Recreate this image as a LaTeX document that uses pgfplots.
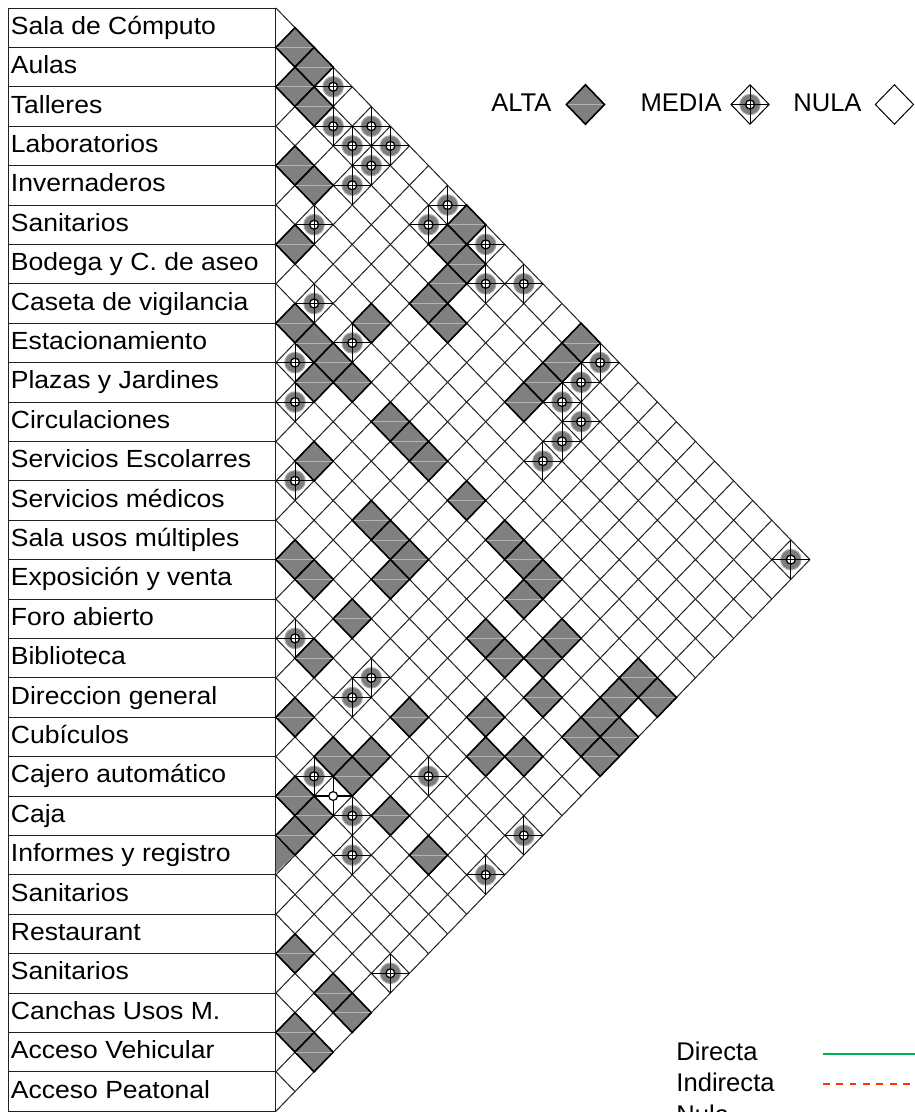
\documentclass[border=0pt]{standalone}
\usepackage{fontspec}
\setmainfont{Liberation Sans}
\newfontfamily\labfont{Liberation Sans}[FakeStretch=1.07]
\usepackage{pgfplots}
\pgfplotsset{compat=1.18}
\definecolor{alta}{HTML}{808080}
\definecolor{altaline}{HTML}{B4B4B4}
\definecolor{ring}{HTML}{7C7C7C}
\definecolor{ringedge}{HTML}{A8A8A8}
\definecolor{directa}{HTML}{00B050}
\definecolor{indirecta}{HTML}{FF3300}
\definecolor{gridc}{HTML}{202020}

\pgfdeclareplotmark{alta}{%
  \pgfscope
  \pgfsetfillcolor{alta}\pgfsetstrokecolor{black}\pgfsetlinewidth{0.8pt}%
  \pgfpathmoveto{\pgfqpoint{-9.535pt}{0pt}}%
  \pgfpathlineto{\pgfqpoint{0pt}{9.85pt}}%
  \pgfpathlineto{\pgfqpoint{9.535pt}{0pt}}%
  \pgfpathlineto{\pgfqpoint{0pt}{-9.85pt}}%
  \pgfpathclose
  \pgfusepathqfillstroke
  \pgfsetstrokecolor{altaline}\pgfsetlinewidth{0.4pt}%
  \pgfpathmoveto{\pgfqpoint{-8.8pt}{0pt}}\pgfpathlineto{\pgfqpoint{8.8pt}{0pt}}%
  \pgfusepathqstroke
  \endpgfscope
}
\pgfdeclareplotmark{nula}{%
  \pgfscope
  \pgfsetfillcolor{white}\pgfsetstrokecolor{black}\pgfsetlinewidth{0.5pt}%
  \pgfpathmoveto{\pgfqpoint{-9.535pt}{0pt}}%
  \pgfpathlineto{\pgfqpoint{0pt}{9.85pt}}%
  \pgfpathlineto{\pgfqpoint{9.535pt}{0pt}}%
  \pgfpathlineto{\pgfqpoint{0pt}{-9.85pt}}%
  \pgfpathclose
  \pgfusepathqfillstroke
  \endpgfscope
}
\pgfdeclareplotmark{media}{%
  \pgfscope
  \pgfsetfillcolor{ringedge}%
  \pgfpathcircle{\pgfpointorigin}{5.4pt}\pgfusepathqfill
  \pgfsetfillcolor{ring}%
  \pgfpathcircle{\pgfpointorigin}{4.8pt}\pgfusepathqfill
  \pgfsetfillcolor{white}\pgfsetstrokecolor{black}\pgfsetlinewidth{0.65pt}%
  \pgfpathcircle{\pgfpointorigin}{2.25pt}\pgfusepathqfillstroke
  \pgfsetlinewidth{0.5pt}%
  \pgfpathmoveto{\pgfqpoint{-9.535pt}{0pt}}\pgfpathlineto{\pgfqpoint{9.535pt}{0pt}}%
  \pgfpathmoveto{\pgfqpoint{0pt}{-9.85pt}}\pgfpathlineto{\pgfqpoint{0pt}{9.85pt}}%
  \pgfusepathqstroke
  \endpgfscope
}
\pgfdeclareplotmark{mediab}{%
  \pgfscope
  \pgfsetfillcolor{white}\pgfsetstrokecolor{black}\pgfsetlinewidth{0.6pt}%
  \pgfpathmoveto{\pgfqpoint{-9.535pt}{0pt}}\pgfpathlineto{\pgfqpoint{9.535pt}{0pt}}%
  \pgfpathmoveto{\pgfqpoint{0pt}{-9.85pt}}\pgfpathlineto{\pgfqpoint{0pt}{9.85pt}}%
  \pgfusepathqstroke
  \pgfpathcircle{\pgfpointorigin}{2.2pt}\pgfusepathqfillstroke
  \endpgfscope
}
\tikzset{lab/.style={anchor=base west, inner sep=0pt, font=\labfont\fontsize{12.4}{14}\selectfont},
         leg/.style={inner sep=0pt, font=\fontsize{12.8}{15}\selectfont}}

\begin{document}
\begin{tikzpicture}
\begin{axis}[
  x=9.535pt, y=19.7pt, y dir=reverse,
  xmin=-14.47, xmax=33.46, ymin=-0.203, ymax=28.02,
  hide axis, clip=false, unbounded coords=jump,
]
% ---- label boxes ----
\addplot[gridc, line width=0.5pt, mark=none] table {
x y
-14.05 0
0 0
nan nan
-14.05 1
0 1
nan nan
-14.05 2
0 2
nan nan
-14.05 3
0 3
nan nan
-14.05 4
0 4
nan nan
-14.05 5
0 5
nan nan
-14.05 6
0 6
nan nan
-14.05 7
0 7
nan nan
-14.05 8
0 8
nan nan
-14.05 9
0 9
nan nan
-14.05 10
0 10
nan nan
-14.05 11
0 11
nan nan
-14.05 12
0 12
nan nan
-14.05 13
0 13
nan nan
-14.05 14
0 14
nan nan
-14.05 15
0 15
nan nan
-14.05 16
0 16
nan nan
-14.05 17
0 17
nan nan
-14.05 18
0 18
nan nan
-14.05 19
0 19
nan nan
-14.05 20
0 20
nan nan
-14.05 21
0 21
nan nan
-14.05 22
0 22
nan nan
-14.05 23
0 23
nan nan
-14.05 24
0 24
nan nan
-14.05 25
0 25
nan nan
-14.05 26
0 26
nan nan
-14.05 27
0 27
nan nan
-14.05 28
0 28
nan nan
-14.05 0
-14.05 28
nan nan
0 0
0 28
};
\node[lab] at (axis cs:-13.92,0.665) {Sala de Cómputo};
\node[lab] at (axis cs:-13.92,1.665) {Aulas};
\node[lab] at (axis cs:-13.92,2.665) {Talleres};
\node[lab] at (axis cs:-13.92,3.665) {Laboratorios};
\node[lab] at (axis cs:-13.92,4.665) {Invernaderos};
\node[lab] at (axis cs:-13.92,5.665) {Sanitarios};
\node[lab] at (axis cs:-13.92,6.665) {Bodega y C. de aseo};
\node[lab] at (axis cs:-13.92,7.665) {Caseta de vigilancia};
\node[lab] at (axis cs:-13.92,8.665) {Estacionamiento};
\node[lab] at (axis cs:-13.92,9.665) {Plazas y Jardines};
\node[lab] at (axis cs:-13.92,10.665) {Circulaciones};
\node[lab] at (axis cs:-13.92,11.665) {Servicios Escolarres};
\node[lab] at (axis cs:-13.92,12.665) {Servicios médicos};
\node[lab] at (axis cs:-13.92,13.665) {Sala usos múltiples};
\node[lab] at (axis cs:-13.92,14.665) {Exposición y venta};
\node[lab] at (axis cs:-13.92,15.665) {Foro abierto};
\node[lab] at (axis cs:-13.92,16.665) {Biblioteca};
\node[lab] at (axis cs:-13.92,17.665) {Direccion general};
\node[lab] at (axis cs:-13.92,18.665) {Cubículos};
\node[lab] at (axis cs:-13.92,19.665) {Cajero automático};
\node[lab] at (axis cs:-13.92,20.665) {Caja};
\node[lab] at (axis cs:-13.92,21.665) {Informes y registro};
\node[lab] at (axis cs:-13.92,22.665) {Sanitarios};
\node[lab] at (axis cs:-13.92,23.665) {Restaurant};
\node[lab] at (axis cs:-13.92,24.665) {Sanitarios};
\node[lab] at (axis cs:-13.92,25.665) {Canchas Usos M.};
\node[lab] at (axis cs:-13.92,26.665) {Acceso Vehicular};
\node[lab] at (axis cs:-13.92,27.665) {Acceso Peatonal};

% ---- grid: down-right lines ----
\addplot[gridc, line width=0.5pt, mark=none] table {
x y
0 0
28 14
nan nan
0 1
27 14.5
nan nan
0 2
26 15
nan nan
0 3
25 15.5
nan nan
0 4
24 16
nan nan
0 5
23 16.5
nan nan
0 6
22 17
nan nan
0 7
21 17.5
nan nan
0 8
20 18
nan nan
0 9
19 18.5
nan nan
0 10
18 19
nan nan
0 11
17 19.5
nan nan
0 12
16 20
nan nan
0 13
15 20.5
nan nan
0 14
14 21
nan nan
0 15
13 21.5
nan nan
0 16
12 22
nan nan
0 17
11 22.5
nan nan
0 18
10 23
nan nan
0 19
9 23.5
nan nan
0 20
8 24
nan nan
0 21
7 24.5
nan nan
0 22
6 25
nan nan
0 23
5 25.5
nan nan
0 24
4 26
nan nan
0 25
3 26.5
nan nan
0 26
2 27
nan nan
0 27
1 27.5
};
% ---- grid: up-right lines ----
\addplot[gridc, line width=0.5pt, mark=none] table {
x y
0 1
1 0.5
nan nan
0 2
2 1
nan nan
0 3
3 1.5
nan nan
0 4
4 2
nan nan
0 5
5 2.5
nan nan
0 6
6 3
nan nan
0 7
7 3.5
nan nan
0 8
8 4
nan nan
0 9
9 4.5
nan nan
0 10
10 5
nan nan
0 11
11 5.5
nan nan
0 12
12 6
nan nan
0 13
13 6.5
nan nan
0 14
14 7
nan nan
0 15
15 7.5
nan nan
0 16
16 8
nan nan
0 17
17 8.5
nan nan
0 18
18 9
nan nan
0 19
19 9.5
nan nan
0 20
20 10
nan nan
0 21
21 10.5
nan nan
0 22
22 11
nan nan
0 23
23 11.5
nan nan
0 24
24 12
nan nan
0 25
25 12.5
nan nan
0 26
26 13
nan nan
0 27
27 13.5
nan nan
0 28
28 14
};

% row triangle filled (Informes y registro)
\addplot[fill=alta, draw=none, mark=none] table {
x y
0 21.05
0.95 21.5
0 21.95
0 21.05
};

% ---- ALTA (x = j-i, y = (i+j-1)/2) ----
\addplot[only marks, mark=alta] table {
x y
1 1
2 1.5
1 2
2 2.5
1 4
2 4.5
1 6
10 5.5
9 6
10 6.5
9 7
8 7.5
9 8
1 8
5 8
2 8.5
3 9
2 9.5
4 9.5
6 10.5
7 11
8 11.5
2 11.5
10 12.5
5 13
6 13.5
12 13.5
1 14
7 14
13 14
16 8.5
15 9
14 9.5
13 10
2 14.5
6 14.5
13 15
4 15.5
2 16.5
1 18
7 18
11 16
12 16.5
11 18
3 19
5 19
4 19.5
11 19
13 19
1 20
2 20.5
1 21
6 20.5
14 14.5
15 16
14 16.5
14 17.5
19 17
18 17.5
20 17.5
17 18
16 18.5
18 18.5
17 19
8 21.5
1 24
3 25
4 25.5
1 26
2 26.5
};

% ---- MEDIA ----
\addplot[only marks, mark=media] table {
x y
3 2
3 3
5 3
4 3.5
6 3.5
5 4
4 4.5
2 5.5
9 5
8 5.5
11 6
11 7
13 7
2 7.5
4 8.5
1 9
1 10
1 12
17 9
16 9.5
15 10
16 10.5
15 11
14 11.5
27 14
1 16
5 17
4 17.5
2 19.5
4 20.5
8 19.5
13 21
4 21.5
11 22
6 24.5
};
\addplot[only marks, mark=mediab] coordinates {(3,20)};

% ---- legend (top) ----
\addplot[only marks, mark=alta] coordinates {(16.23,2.449)};
\addplot[only marks, mark=nula] coordinates {(24.86,2.449) (32.43,2.449)};
\addplot[only marks, mark=media] coordinates {(24.86,2.449)};
\node[leg, anchor=base east] at (axis cs:14.47,2.632) {ALTA};
\node[leg, anchor=base east] at (axis cs:23.39,2.632) {MEDIA};
\node[leg, anchor=base east] at (axis cs:30.73,2.632) {NULA};

% ---- legend (bottom) ----
\addplot[directa, line width=1pt, mark=none] coordinates {(28.68,26.56) (34,26.56)};
\addplot[indirecta, line width=1pt, dash pattern=on 3.4pt off 3.3pt, mark=none] coordinates {(28.68,27.32) (34,27.32)};
\node[leg, anchor=base west] at (axis cs:20.98,26.70) {Directa};
\node[leg, anchor=base west] at (axis cs:20.98,27.51) {Indirecta};
\node[leg, anchor=base west] at (axis cs:20.98,28.31) {Nula};

\coordinate (bbBL) at (axis cs:-14.47,28.02);
\coordinate (bbTR) at (axis cs:33.46,-0.203);
\end{axis}
\pgfresetboundingbox
\path (bbBL) rectangle (bbTR);
\end{tikzpicture}
\end{document}
